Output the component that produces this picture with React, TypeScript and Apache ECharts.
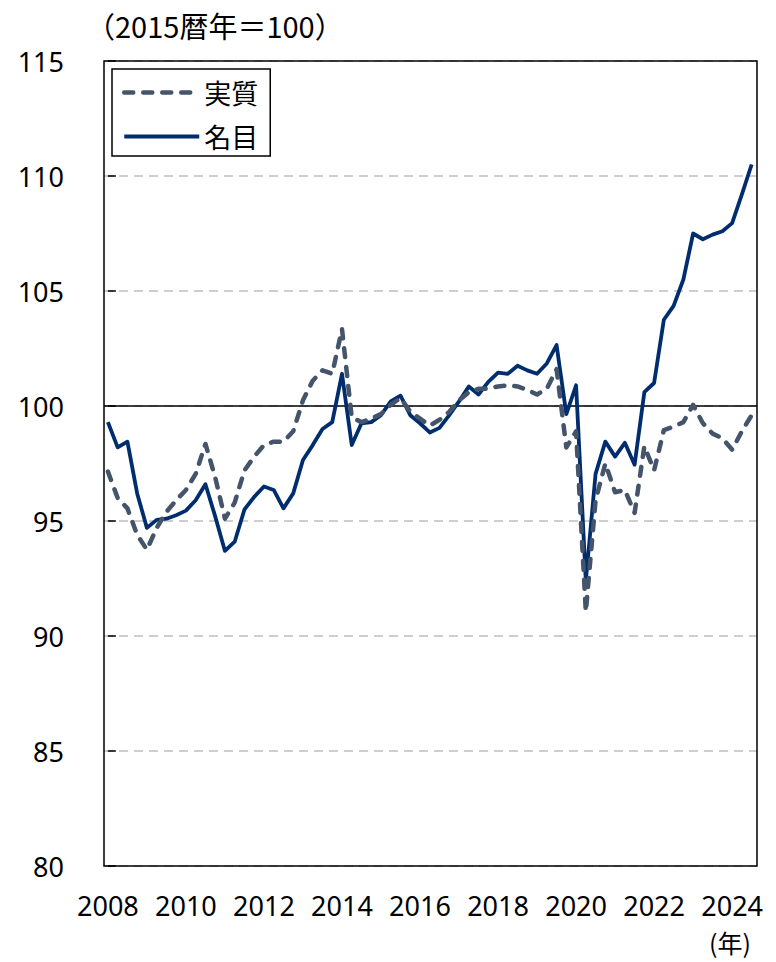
import React, { useEffect, useRef } from 'react';
import * as echarts from 'echarts';

// Quarterly index, 2008Q1 .. 2024Q3 (2015 calendar year = 100)
const nominal = [
  99.3, 98.2, 98.45, 96.2, 94.7, 95.05, 95.1, 95.25, 95.45, 95.9,
  96.6, 95.2, 93.7, 94.1, 95.5, 96.05, 96.5, 96.35, 95.55, 96.2,
  97.65, 98.3, 99.0, 99.3, 101.4, 98.3, 99.25, 99.3, 99.6, 100.2,
  100.45, 99.6, 99.25, 98.85, 99.05, 99.6, 100.2, 100.85, 100.5, 101.05,
  101.45, 101.4, 101.75, 101.55, 101.4, 101.85, 102.65, 99.65, 100.9, 92.4,
  97.05, 98.45, 97.8, 98.4, 97.45, 100.6, 101.0, 103.75, 104.35, 105.5,
  107.5, 107.25, 107.45, 107.6, 107.95, 109.2, 110.5,
];
const real = [
  97.15, 96.0, 95.55, 94.4, 93.75, 94.7, 95.4, 95.9, 96.35, 97.05,
  98.35, 96.9, 95.1, 95.8, 97.2, 97.8, 98.3, 98.45, 98.45, 98.9,
  100.25, 101.1, 101.55, 101.4, 103.35, 99.5, 99.3, 99.45, 99.65, 100.05,
  100.35, 99.75, 99.45, 99.15, 99.4, 99.75, 100.25, 100.6, 100.75, 100.75,
  100.85, 100.9, 100.85, 100.7, 100.5, 100.75, 101.6, 98.2, 98.9, 91.05,
  95.9, 97.5, 96.25, 96.35, 95.35, 98.25, 97.2, 98.95, 99.1, 99.3,
  100.05, 99.25, 98.8, 98.6, 98.1, 98.9, 99.6,
];
const xTickLabels = ['2008', '2010', '2012', '2014', '2016', '2018', '2020', '2022', '2024'];
const seriesNames = ['実質', '名目'];
const titleText = '（2015暦年＝100）';
const unitText = '(年)';

const FONT = '"Noto Sans", "Noto Sans CJK JP", sans-serif';
const CJK = '"Noto Sans CJK JP", "Noto Sans", sans-serif';
const NAVY = '#002D6E';
const SLATE = '#44546A';
const REAL_LINE = { color: SLATE, width: 4.5, type: [9, 10], cap: 'round', join: 'round' };
const NOM_LINE = { color: NAVY, width: 3.8, join: 'round' };

const GRID = { left: 104, right: 19, top: 61, bottom: 96 };
const W = 776;
const H = 962;

export default function App() {
  const ref = useRef<HTMLDivElement>(null);
  useEffect(() => {
    const chart = echarts.init(ref.current!, null, { renderer: 'svg' });
    const tickValues = xTickLabels.map((_, k) => k * 8);
    chart.setOption({
      animation: false,
      textStyle: { fontFamily: FONT },
      grid: { ...GRID, show: false },
      legend: {
        data: [
          { name: seriesNames[0], lineStyle: REAL_LINE },
          { name: seriesNames[1], lineStyle: NOM_LINE },
        ],
        orient: 'vertical',
        left: 112,
        top: 69,
        itemWidth: 75,
        itemHeight: 14,
        itemGap: 17,
        padding: [10, 12, 6, 10],
        borderColor: '#000',
        borderWidth: 1.5,
        backgroundColor: '#fff',
        itemStyle: { opacity: 0 },
        textStyle: { fontSize: 27, color: '#000', fontFamily: CJK },
        z: 20,
      },
      xAxis: {
        type: 'value',
        min: -0.4,
        max: 66.55,
        axisLine: { show: false },
        axisTick: { show: false },
        splitLine: { show: false },
        axisLabel: {
          customValues: tickValues,
          formatter: (v: number) => xTickLabels[Math.round(v / 8)] ?? '',
          fontSize: 27,
          color: '#000',
          margin: 26,
          fontFamily: FONT,
        },
      },
      yAxis: {
        type: 'value',
        min: 80,
        max: 115,
        interval: 5,
        axisLine: { show: false },
        axisTick: { show: true, inside: true, length: 8, lineStyle: { color: '#000', width: 1.5 } },
        axisLabel: { fontSize: 27, color: '#000', margin: 40, fontFamily: FONT },
        splitLine: { show: true, lineStyle: { color: '#BFBFBF', width: 1.5, type: [9, 6] } },
      },
      series: [
        {
          name: '名目',
          type: 'line',
          symbol: 'none',
          data: nominal.map((v, i) => [i, v]),
          lineStyle: NOM_LINE,
          itemStyle: { color: NAVY },
          z: 3,
          markLine: {
            silent: true,
            symbol: 'none',
            label: { show: false },
            lineStyle: { color: '#000', width: 1.5, type: 'solid' },
            data: [{ yAxis: 100 }],
            z: 1,
          },
        },
        {
          name: '実質',
          type: 'line',
          symbol: 'none',
          data: real.map((v, i) => [i, v]),
          lineStyle: REAL_LINE,
          itemStyle: { color: SLATE },
          z: 4,
        },
      ],
      graphic: [
        {
          type: 'rect',
          z: 10,
          silent: true,
          shape: {
            x: GRID.left,
            y: GRID.top,
            width: W - GRID.left - GRID.right,
            height: H - GRID.top - GRID.bottom,
          },
          style: { fill: 'none', stroke: '#000', lineWidth: 1.5 },
        },
        {
          type: 'text',
          left: 86,
          top: 10,
          style: { text: titleText, fontSize: 29, fill: '#000', fontFamily: CJK },
        },
        {
          type: 'text',
          left: 709,
          top: 929,
          style: { text: unitText, fontSize: 25, fill: '#000', fontFamily: CJK },
        },
      ],
    });
    return () => chart.dispose();
  }, []);
  return (
    <div
      ref={ref}
      style={{ width: W, height: H, position: 'absolute', left: 0, top: 0, background: '#fff' }}
    />
  );
}
